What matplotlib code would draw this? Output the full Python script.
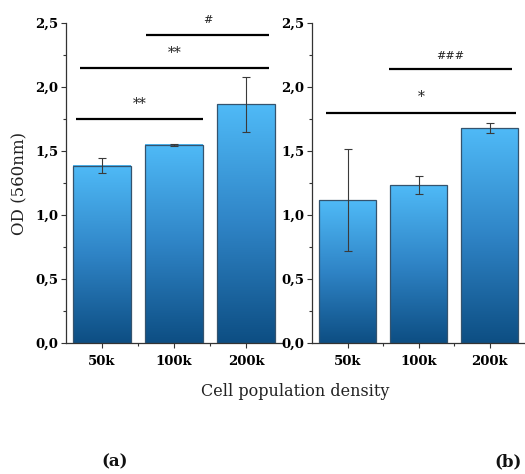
import matplotlib
matplotlib.use("Agg")
import matplotlib.pyplot as plt
import numpy as np
from matplotlib.colors import LinearSegmentedColormap
from matplotlib.ticker import MultipleLocator, FixedLocator

categories = ["50k", "100k", "200k"]
values_a = [1.385, 1.547, 1.865]
errors_a = [0.06, 0.01, 0.213]
values_b = [1.117, 1.234, 1.678]
errors_b = [0.398, 0.072, 0.041]

# significance brackets: (x_start, x_end, y_line, label, y_label)
sig_a = [(-0.36, 1.40, 1.75, "**", 1.87),
         (-0.31, 2.32, 2.146, "**", 2.265),
         (0.61, 2.32, 2.41, "#", 2.52)]
sig_b = [(-0.30, 2.37, 1.80, "*", 1.925),
         (0.58, 2.31, 2.14, "###", 2.245)]

yticks = [0.0, 0.5, 1.0, 1.5, 2.0, 2.5]
ytick_labels = ["0,0", "0,5", "1,0", "1,5", "2,0", "2,5"]

cmap = LinearSegmentedColormap.from_list("bargrad", ["#0d4e83", "#2f84c6", "#4fbaf7"])
SERIF = ["DejaVu Serif"]

fig = plt.figure(figsize=(5.25, 4.74), dpi=100)
ax_a = fig.add_axes([66/525, 1-343/474, 216/525, 320/474])
ax_b = fig.add_axes([312/525, 1-343/474, 213/525, 320/474])


def draw(ax, vals, errs, sigs):
    x = np.arange(len(categories))
    bars = ax.bar(x, vals, width=0.8, facecolor="none", edgecolor="#34536e",
                  linewidth=0.9, zorder=3)
    grad = np.linspace(0, 1, 256).reshape(-1, 1)
    for b in bars:
        x0 = b.get_x()
        x1 = x0 + b.get_width()
        h = b.get_height()
        ax.imshow(grad, extent=[x0, x1, 0, h], origin="lower", aspect="auto",
                  cmap=cmap, zorder=2, interpolation="bicubic")
    ax.errorbar(x, vals, yerr=errs, fmt="none", ecolor="#3a3a3a",
                elinewidth=0.8, capsize=3, capthick=0.8, zorder=4)
    for xs, xe, yl, lab, yt in sigs:
        ax.plot([xs, xe], [yl, yl], color="black", lw=1.6, zorder=5,
                solid_capstyle="butt", clip_on=False)
        fs = 10 if "*" in lab else 8
        ax.text((xs + xe) / 2, yt, lab, ha="center", va="center",
                fontsize=fs, family=SERIF, color="#222222", clip_on=False)
    ax.set_xlim(-0.5, 2.5)
    ax.set_ylim(0, 2.5)
    ax.set_xticks(x)
    ax.set_xticklabels(categories, fontsize=9.5, fontweight="bold", family=SERIF)
    ax.xaxis.set_minor_locator(FixedLocator([0.5, 1.5]))
    ax.set_yticks(yticks)
    ax.set_yticklabels(ytick_labels, fontsize=9.5, fontweight="bold", family=SERIF)
    ax.yaxis.set_minor_locator(MultipleLocator(0.25))
    ax.tick_params(axis="both", which="major", direction="out", length=3.5,
                   width=0.8, color="#333333", pad=2)
    ax.tick_params(axis="x", which="major", pad=5)
    ax.tick_params(axis="both", which="minor", direction="out", length=2,
                   width=0.8, color="#333333")
    for s in ["top", "right"]:
        ax.spines[s].set_visible(False)
    for s in ["left", "bottom"]:
        ax.spines[s].set_linewidth(0.9)
        ax.spines[s].set_color("#333333")


draw(ax_a, values_a, errors_a, sig_a)
draw(ax_b, values_b, errors_b, sig_b)

ax_a.set_ylabel("OD (560nm)", fontsize=12, family=SERIF, color="#222222", labelpad=5)
fig.text(295/525, 1-391/474, "Cell population density", ha="center", va="center",
         fontsize=11.5, family=SERIF, color="#222222")
fig.text(115/525, 1-462/474, "(a)", ha="center", va="center", fontsize=12,
         fontweight="bold", family=SERIF, color="#111111")
fig.text(494/525, 1-462/474, "(b)", ha="left", va="center", fontsize=12,
         fontweight="bold", family=SERIF, color="#111111")

fig.savefig("out.png", dpi=100)
